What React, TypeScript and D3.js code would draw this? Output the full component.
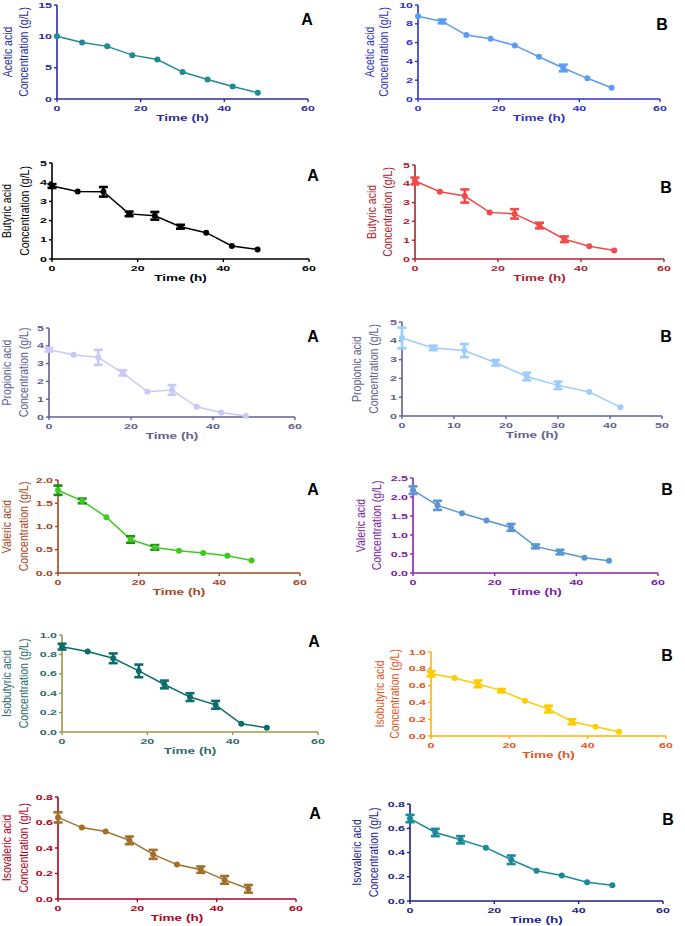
import React from 'react'
import * as d3 from 'd3'

// sampling times (h)
const hours = [0, 6, 12, 18, 24, 30, 36, 42, 48]
const hoursPropB = [0, 6, 12, 18, 24, 30, 36, 42]

// concentrations (g/L) and their error bars
const aceticA = [10, 9, 8.4, 7, 6.3, 4.3, 3.1, 2, 1]
const aceticAErr = [0, 0, 0, 0, 0, 0, 0, 0, 0]
const aceticB = [8.8, 8.25, 6.8, 6.4, 5.7, 4.5, 3.3, 2.2, 1.2]
const aceticBErr = [0, 0.2, 0, 0, 0, 0, 0.35, 0, 0]

const butyricA = [3.8, 3.52, 3.5, 2.35, 2.25, 1.68, 1.37, 0.68, 0.5]
const butyricAErr = [0.1, 0, 0.25, 0.12, 0.2, 0.1, 0, 0, 0]
const butyricB = [4.15, 3.58, 3.35, 2.48, 2.4, 1.78, 1.05, 0.68, 0.45]
const butyricBErr = [0.18, 0, 0.35, 0, 0.25, 0.15, 0.15, 0, 0]

const propionicA = [3.78, 3.5, 3.35, 2.48, 1.42, 1.52, 0.57, 0.25, 0.05]
const propionicAErr = [0.1, 0, 0.42, 0.15, 0, 0.27, 0, 0, 0]
const propionicB = [4.15, 3.62, 3.48, 2.83, 2.1, 1.63, 1.28, 0.47]
const propionicBErr = [0.55, 0.12, 0.35, 0.15, 0.2, 0.2, 0, 0]

const valericA = [1.78, 1.55, 1.2, 0.72, 0.55, 0.48, 0.43, 0.37, 0.27]
const valericAErr = [0.1, 0.05, 0, 0.07, 0.05, 0, 0, 0, 0]
const valericB = [2.18, 1.78, 1.57, 1.38, 1.2, 0.7, 0.55, 0.4, 0.32]
const valericBErr = [0.1, 0.12, 0, 0, 0.09, 0.05, 0.06, 0, 0]

const isobutyricA = [0.88, 0.83, 0.76, 0.63, 0.49, 0.36, 0.28, 0.085, 0.045]
const isobutyricAErr = [0.03, 0, 0.05, 0.065, 0.04, 0.04, 0.04, 0, 0]
const isobutyricB = [0.74, 0.69, 0.62, 0.54, 0.42, 0.32, 0.17, 0.11, 0.05]
const isobutyricBErr = [0.03, 0, 0.04, 0.02, 0, 0.04, 0.03, 0, 0]

const isovalericA = [0.64, 0.56, 0.53, 0.46, 0.35, 0.27, 0.23, 0.15, 0.08]
const isovalericAErr = [0.04, 0, 0, 0.03, 0.035, 0, 0.025, 0.03, 0.03]
const isovalericB = [0.68, 0.565, 0.505, 0.44, 0.34, 0.25, 0.21, 0.155, 0.13]
const isovalericBErr = [0.03, 0.03, 0.03, 0, 0.035, 0, 0, 0, 0]

type Panel = {
  name: string
  letter: string
  t: number[]
  v: number[]
  e: number[]
  xMax: number
  xStep: number
  yMax: number
  yStep: number
  dec: number
  x0: number
  x1: number
  y0: number
  y1: number
  lab1: number
  lab2: number
  lx: number
  ly: number
  axis: string
  text: string
  line: string
  err: string
}

const panels: Panel[] = [
  { name: 'Acetic acid', letter: 'A', t: hours, v: aceticA, e: aceticAErr, xMax: 60, xStep: 20, yMax: 15, yStep: 5, dec: 0,
    x0: 57, x1: 308, y0: 5, y1: 99, lab1: 8, lab2: 24, lx: 307, ly: 25, axis: '#2b2b9e', text: '#2b2b9e', line: '#1f8a92', err: '#1f8a92' },
  { name: 'Acetic acid', letter: 'B', t: hours, v: aceticB, e: aceticBErr, xMax: 60, xStep: 20, yMax: 10, yStep: 2, dec: 0,
    x0: 418, x1: 660, y0: 5, y1: 99, lab1: 370, lab2: 384, lx: 662, ly: 30, axis: '#3030cc', text: '#3030cc', line: '#5b9df0', err: '#5b9df0' },
  { name: 'Butyric acid', letter: 'A', t: hours, v: butyricA, e: butyricAErr, xMax: 60, xStep: 20, yMax: 5, yStep: 1, dec: 0,
    x0: 52, x1: 309, y0: 163, y1: 259, lab1: 7, lab2: 25, lx: 313, ly: 181, axis: '#000000', text: '#000000', line: '#000000', err: '#000000' },
  { name: 'Butyric acid', letter: 'B', t: hours, v: butyricB, e: butyricBErr, xMax: 60, xStep: 20, yMax: 5, yStep: 1, dec: 0,
    x0: 415, x1: 664, y0: 165, y1: 259, lab1: 372, lab2: 388, lx: 666, ly: 193, axis: '#b0202e', text: '#b0202e', line: '#f04a4a', err: '#f04a4a' },
  { name: 'Propionic acid', letter: 'A', t: hours, v: propionicA, e: propionicAErr, xMax: 60, xStep: 20, yMax: 5, yStep: 1, dec: 0,
    x0: 49, x1: 295, y0: 328, y1: 417, lab1: 7, lab2: 24, lx: 313, ly: 342, axis: '#60608f', text: '#60608f', line: '#c9c9f7', err: '#c9c9f7' },
  { name: 'Propionic acid', letter: 'B', t: hoursPropB, v: propionicB, e: propionicBErr, xMax: 50, xStep: 10, yMax: 5, yStep: 1, dec: 0,
    x0: 402, x1: 662, y0: 322, y1: 416, lab1: 357, lab2: 374, lx: 666, ly: 342, axis: '#60608f', text: '#60608f', line: '#9dcdfc', err: '#9dcdfc' },
  { name: 'Valeric acid', letter: 'A', t: hours, v: valericA, e: valericAErr, xMax: 60, xStep: 20, yMax: 2, yStep: 0.5, dec: 1,
    x0: 58, x1: 300, y0: 480, y1: 573, lab1: 7, lab2: 24, lx: 313, ly: 495, axis: '#a5461e', text: '#a5461e', line: '#40c820', err: '#1a8a1a' },
  { name: 'Valeric acid', letter: 'B', t: hours, v: valericB, e: valericBErr, xMax: 60, xStep: 20, yMax: 2.5, yStep: 0.5, dec: 1,
    x0: 413, x1: 658, y0: 478, y1: 573, lab1: 361, lab2: 377, lx: 667, ly: 495, axis: '#8a22b8', text: '#7a1aa8', line: '#5b96d2', err: '#5b96d2' },
  { name: 'Isobutyric acid', letter: 'A', t: hours, v: isobutyricA, e: isobutyricAErr, xMax: 60, xStep: 20, yMax: 1, yStep: 0.2, dec: 1,
    x0: 62, x1: 318, y0: 635, y1: 732, lab1: 7, lab2: 24, lx: 314, ly: 647, axis: '#9a9a44', text: '#2d6b6b', line: '#0d6b6b', err: '#0d6b6b' },
  { name: 'Isobutyric acid', letter: 'B', t: hours, v: isobutyricB, e: isobutyricBErr, xMax: 60, xStep: 20, yMax: 1, yStep: 0.2, dec: 1,
    x0: 431, x1: 666, y0: 652, y1: 736, lab1: 380, lab2: 395, lx: 667, ly: 661, axis: '#ffb300', text: '#e4561e', line: '#ffcc00', err: '#ffcc00' },
  { name: 'Isovaleric acid', letter: 'A', t: hours, v: isovalericA, e: isovalericAErr, xMax: 60, xStep: 20, yMax: 0.8, yStep: 0.2, dec: 1,
    x0: 58, x1: 296, y0: 797, y1: 899, lab1: 7, lab2: 24, lx: 315, ly: 819, axis: '#b00020', text: '#b00020', line: '#a0702a', err: '#a0702a' },
  { name: 'Isovaleric acid', letter: 'B', t: hours, v: isovalericB, e: isovalericBErr, xMax: 60, xStep: 20, yMax: 0.8, yStep: 0.2, dec: 1,
    x0: 410, x1: 663, y0: 804, y1: 901, lab1: 357, lab2: 374, lx: 668, ly: 825, axis: '#1e1e8c', text: '#1e1e8c', line: '#1a8a9a', err: '#1a8a9a' },
]

const tickFont = 'Liberation Sans, Arial, sans-serif'
const narrowFont = 'Liberation Sans Narrow, Liberation Sans, Arial, sans-serif'

function ChartPanel({ p }: { p: Panel }) {
  const x = d3.scaleLinear().domain([0, p.xMax]).range([p.x0, p.x1])
  const y = d3.scaleLinear().domain([0, p.yMax]).range([p.y1, p.y0])
  const xTicks = d3.range(0, p.xMax + p.xStep / 2, p.xStep)
  const yTicks = d3.range(0, p.yMax + p.yStep / 2, p.yStep)
  const pts = p.t.map((t, i) => [x(t), y(p.v[i])] as [number, number])
  const line = d3.line()(pts) ?? ''
  const midY = (p.y0 + p.y1) / 2

  return (
    <g>
      {/* axes */}
      <line x1={p.x0} x2={p.x0} y1={p.y0} y2={p.y1} stroke={p.axis} strokeWidth={1.6} />
      <line x1={p.x0} x2={p.x1} y1={p.y1} y2={p.y1} stroke={p.axis} strokeWidth={1.6} />
      {yTicks.map((v) => (
        <g key={'y' + v}>
          <line x1={p.x0 - 3} x2={p.x0} y1={y(v)} y2={y(v)} stroke={p.axis} strokeWidth={1.4} />
          <text
            transform={`translate(${p.x0 - 5},${y(v) + 2.6}) scale(1.7,1)`}
            textAnchor="end"
            fontFamily={tickFont}
            fontWeight="bold"
            fontSize={7.3}
            fill={p.text}
          >
            {v.toFixed(p.dec)}
          </text>
        </g>
      ))}
      {xTicks.map((v) => (
        <g key={'x' + v}>
          <line x1={x(v)} x2={x(v)} y1={p.y1} y2={p.y1 + 3} stroke={p.axis} strokeWidth={1.4} />
          <text
            transform={`translate(${x(v)},${p.y1 + 12}) scale(1.7,1)`}
            textAnchor="middle"
            fontFamily={tickFont}
            fontWeight="bold"
            fontSize={7.3}
            fill={p.text}
          >
            {v}
          </text>
        </g>
      ))}
      <text
        transform={`translate(${(p.x0 + p.x1) / 2},${p.y1 + 22}) scale(1.65,1)`}
        textAnchor="middle"
        fontFamily={tickFont}
        fontWeight="bold"
        fontSize={8.2}
        fill={p.text}
      >
        Time (h)
      </text>
      <text
        transform={`translate(${p.lab1 + 4},${midY}) rotate(-90) scale(1,1.15)`}
        textAnchor="middle"
        fontFamily={narrowFont}
        fontSize={10.5}
        fill={p.text}
      >
        {p.name}
      </text>
      <text
        transform={`translate(${p.lab2 + 4},${midY}) rotate(-90) scale(1,1.15)`}
        textAnchor="middle"
        fontFamily={narrowFont}
        fontSize={10.5}
        fill={p.text}
      >
        Concentration (g/L)
      </text>
      <text x={p.lx} y={p.ly} textAnchor="middle" fontFamily={tickFont} fontWeight="bold" fontSize={16} fill="#000">
        {p.letter}
      </text>

      {/* data */}
      <path d={line} fill="none" stroke={p.line} strokeWidth={1.5} />
      {p.t.map((t, i) =>
        p.e[i] > 0 ? (
          <g key={'e' + t} stroke={p.err} strokeWidth={2.6}>
            <line x1={x(t)} x2={x(t)} y1={y(p.v[i] - p.e[i])} y2={y(p.v[i] + p.e[i])} />
            <line x1={x(t) - 4.5} x2={x(t) + 4.5} y1={y(p.v[i] - p.e[i])} y2={y(p.v[i] - p.e[i])} />
            <line x1={x(t) - 4.5} x2={x(t) + 4.5} y1={y(p.v[i] + p.e[i])} y2={y(p.v[i] + p.e[i])} />
          </g>
        ) : null
      )}
      {pts.map(([cx, cy], i) => (
        <circle key={'c' + i} cx={cx} cy={cy} r={3} fill={p.line} />
      ))}
    </g>
  )
}

export default function App() {
  return (
    <div style={{ position: 'absolute', left: 0, top: 0 }}>
      <svg width={685} height={926} style={{ display: 'block', background: '#fff' }}>
        {panels.map((p, i) => (
          <ChartPanel key={i} p={p} />
        ))}
      </svg>
    </div>
  )
}
